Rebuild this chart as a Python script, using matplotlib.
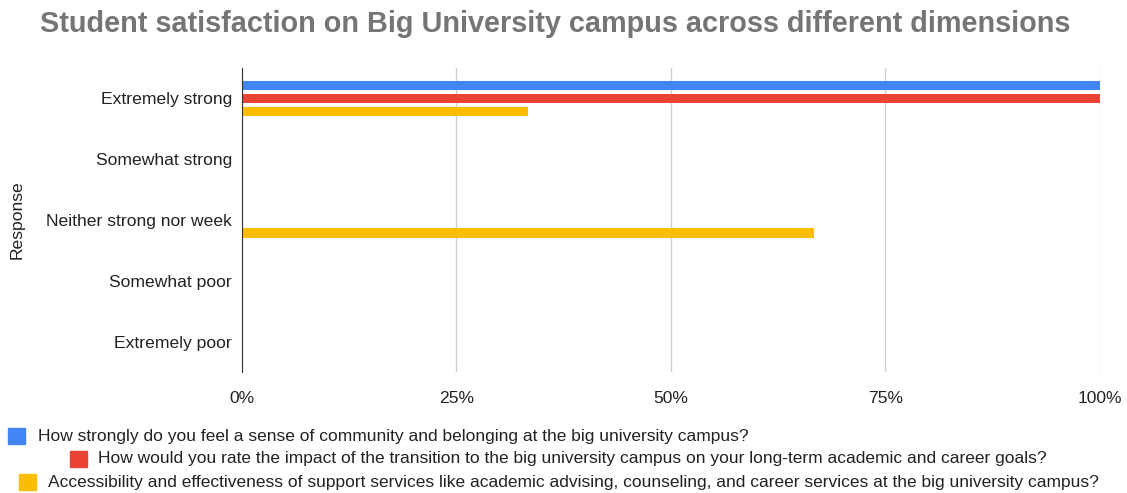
import matplotlib.pyplot as plt
import numpy as np
from matplotlib.patches import Rectangle
from matplotlib.ticker import PercentFormatter

categories = ['Extremely strong', 'Somewhat strong', 'Neither strong nor week',
              'Somewhat poor', 'Extremely poor']
series_names = [
    'How strongly do you feel a sense of community and belonging at the big university campus?',
    'How would you rate the impact of the transition to the big university campus on your long-term academic and career goals?',
    'Accessibility and effectiveness of support services like academic advising, counseling, and career services at the big university campus?',
]
community = [100, 0, 0, 0, 0]
impact = [100, 0, 0, 0, 0]
support = [33.3, 0, 66.7, 0, 0]
colors = ['#4285F4', '#EA4335', '#FBBC04']

plt.rcParams['font.family'] = ['Liberation Sans', 'DejaVu Sans']

fig = plt.figure(figsize=(11.27, 4.93), dpi=100)
ax = fig.add_axes([0.2147, 0.2454, 0.976 - 0.2147, 0.862 - 0.2454])

y = np.arange(len(categories))
step = 0.213
height = 0.15
for i, (vals, c) in enumerate(zip([community, impact, support], colors)):
    ax.barh(y + (i - 1) * step, vals, height=height, color=c, zorder=3)

ax.set_xlim(0, 100)
ax.set_ylim(4.5, -0.5)
ax.set_yticks(y)
ax.set_yticklabels(categories, fontsize=12.6, color='#222222')
ax.set_xticks([0, 25, 50, 75, 100])
ax.xaxis.set_major_formatter(PercentFormatter(decimals=0))
ax.tick_params(axis='x', labelsize=12.6, colors='#222222', length=0, pad=14)
ax.tick_params(axis='y', length=0, pad=7)
ax.grid(axis='x', color='#d0d0d0', linewidth=1, zorder=0)
for s in ['top', 'right', 'bottom']:
    ax.spines[s].set_visible(False)
ax.spines['left'].set_color('#333333')
ax.spines['left'].set_zorder(4)
ax.set_ylabel('Response', fontsize=12.6, color='#222222')
ax.yaxis.set_label_coords(-0.253, 0.5)

fig.text(0.4925, 0.952, 'Student satisfaction on Big University campus across different dimensions',
         ha='center', va='center', fontsize=20.8, fontweight='bold', color='#757575')

# legend entries, staggered like the original (square x, row y, text x)
W, H = 1127, 493
legend_pos = [(8, 436, 38), (70, 459, 98), (19, 482, 48)]
for (sx, yy, tx), name, c in zip(legend_pos, series_names, colors):
    fig.patches.append(Rectangle((sx / W, 1 - (yy + 8) / H), 17 / W, 16 / H,
                                 transform=fig.transFigure, color=c))
    fig.text(tx / W, 1 - yy / H, name, ha='left', va='center', fontsize=12.5, color='#222222')

fig.savefig('out.png', dpi=100)
